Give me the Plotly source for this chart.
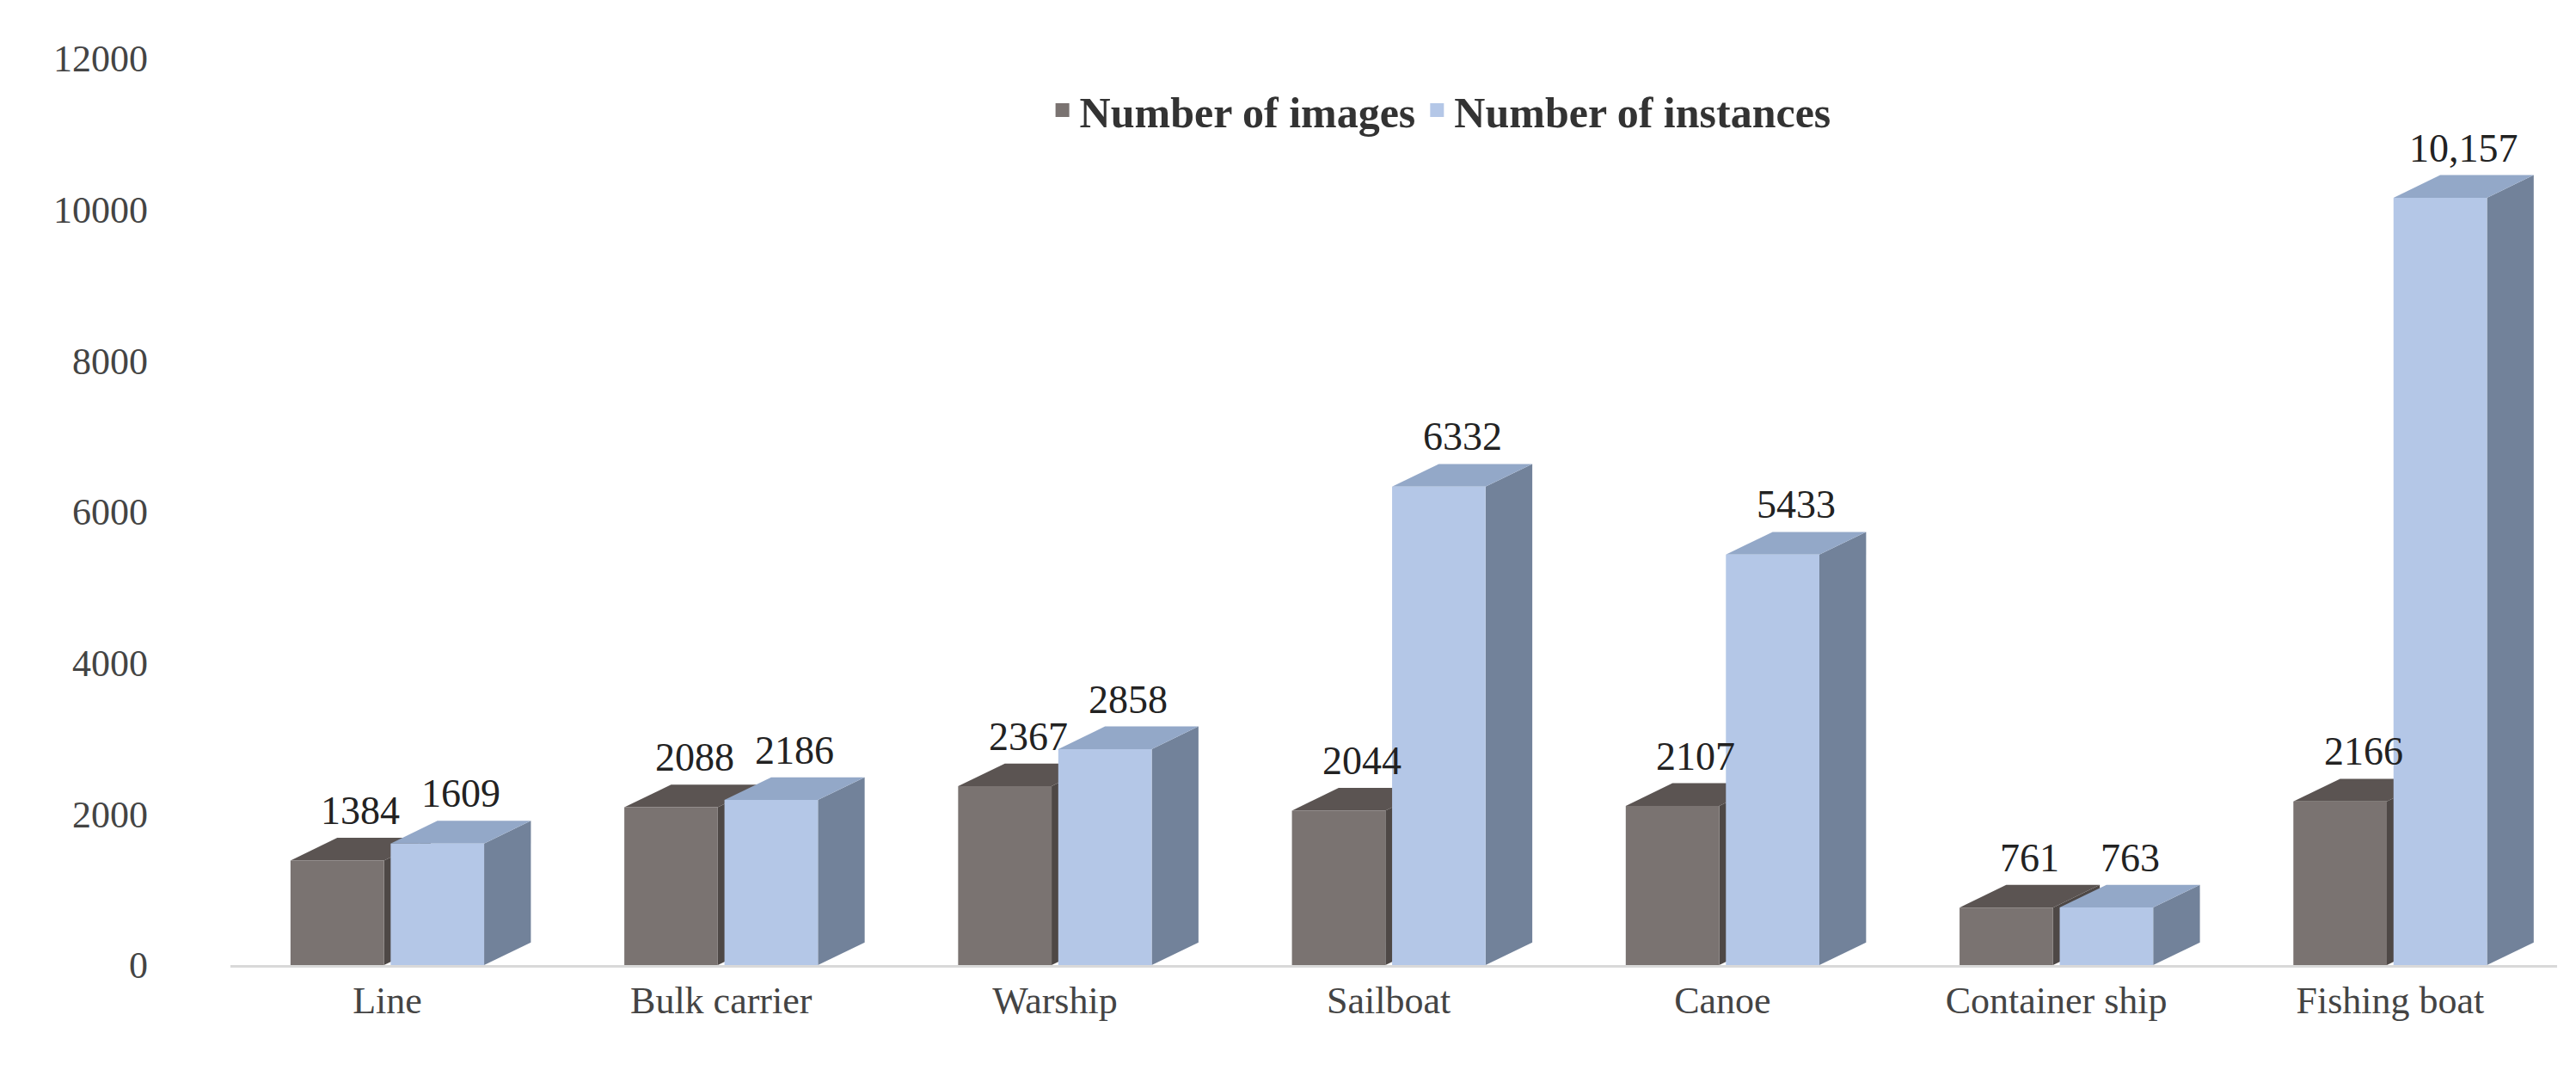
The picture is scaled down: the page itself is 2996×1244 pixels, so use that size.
import plotly.graph_objects as go

categories = ['Line', 'Bulk carrier', 'Warship', 'Sailboat', 'Canoe', 'Container ship', 'Fishing boat']
images = [1384, 2088, 2367, 2044, 2107, 761, 2166]
instances = [1609, 2186, 2858, 6332, 5433, 763, 10157]
image_labels = ['1384', '2088', '2367', '2044', '2107', '761', '2166']
instance_labels = ['1609', '2186', '2858', '6332', '5433', '763', '10,157']

series = [
    ('Number of images', images, image_labels, -0.15, '#7a7371', '#5b5452', '#4e4846'),
    ('Number of instances', instances, instance_labels, 0.15, '#b4c7e7', '#93a8c8', '#72829a'),
]
width = 0.28
dx, dy = 0.14, 300

fig = go.Figure()
for name, vals, labels, off, front, top, side in series:
    fig.add_trace(go.Scatter(x=[None], y=[None], mode='markers', name=name,
                             marker=dict(symbol='square', size=26, color=front)))
    xs = [i + off for i in range(len(vals))]
    for x, v, lab in zip(xs, vals, labels):
        l, r = x - width / 2, x + width / 2
        faces = [
            ([r, r + dx, r + dx, r, r], [0, dy, v + dy, v, 0], side),
            ([l, r, r + dx, l + dx, l], [v, v, v + dy, v + dy, v], top),
            ([l, r, r, l, l], [0, 0, v, v, 0], front),
        ]
        for fx, fy, c in faces:
            fig.add_trace(go.Scatter(x=fx, y=fy, fill='toself', fillcolor=c, line_width=0,
                                     mode='lines', showlegend=False, hoverinfo='skip'))
        fig.add_annotation(x=x + dx / 2, y=v + dy, text=lab, showarrow=False, yanchor='bottom',
                           yshift=4, font=dict(size=46, color='#222'))

fig.update_layout(
    width=2996, height=1244, plot_bgcolor='white', paper_bgcolor='white',
    font=dict(family='Liberation Serif', size=44, color='#444'),
    margin=dict(l=260, r=30, t=60, b=130),
    legend=dict(orientation='h', x=0.52, xanchor='center', y=0.98, yanchor='top',
                font=dict(size=50, color='#333', family='Liberation Serif', weight='bold'),
                bgcolor='rgba(0,0,0,0)'),
)
fig.update_xaxes(tickvals=list(range(len(categories))), ticktext=categories,
                 range=[-0.47, 6.5], showgrid=False, zeroline=False,
                 showline=True, linecolor='#d9d9d9', linewidth=3, ticks='')
fig.update_yaxes(range=[0, 12000], dtick=2000, tickformat='d', showgrid=False, zeroline=False,
                 ticks='', ticklabelstandoff=95)

fig.write_html("out.html")
